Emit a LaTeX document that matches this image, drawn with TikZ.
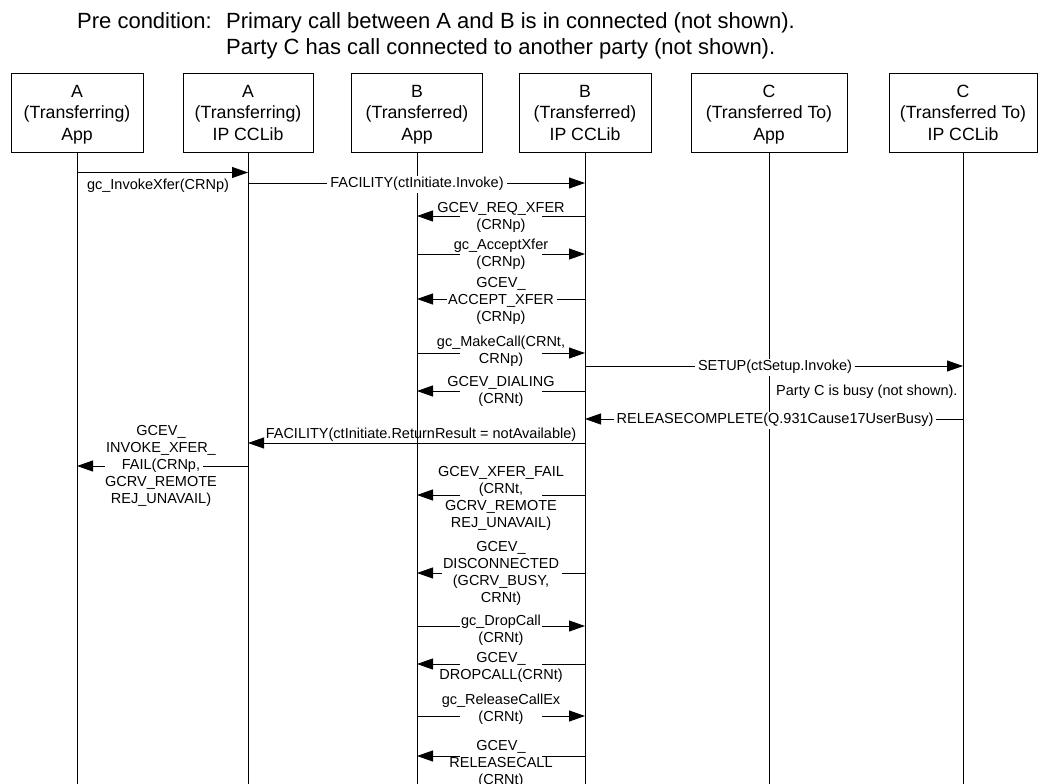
\documentclass[tikz,border=0pt]{standalone}
\usepackage{fontspec}
\setmainfont{Liberation Sans}
\usetikzlibrary{arrows.meta}
\begin{document}
\begin{tikzpicture}[x=1pt,y=-1pt,
  actor/.style={draw, line width=0.9pt, minimum height=79pt, inner sep=0pt},
  actortext/.style={align=center, inner sep=0pt, font=\fontsize{17.7}{21.5}\selectfont,
    execute at begin node=\strut, execute at end node=\strut},
  life/.style={line width=0.9pt},
  msg/.style={line width=0.9pt, -{Triangle[length=16pt,width=11pt]}},
  lbl/.style={align=center, inner sep=0pt, font=\fontsize{14.5}{17}\selectfont,
    execute at begin node=\strut, execute at end node=\strut},
  gap/.style={fill=white, inner sep=0pt, minimum height=4pt, minimum width=82pt},
  inl/.style={lbl, fill=white, inner xsep=3pt, inner ysep=0pt},
  head/.style={inner sep=0pt, font=\fontsize{22}{27}\selectfont},
]
\useasboundingbox (0,0) rectangle (1039,784);

% precondition text
\node[head, anchor=base west] (pre) at (77,28.5) {Pre condition:};
\node[head, anchor=base west] (cond1) at (226,28.5) {Primary call between A and B is in connected (not shown).};
\node[head, anchor=base west] (cond2) at (226,54.5) {Party C has call connected to another party (not shown).};

% participants: frames and their captions
\node[actor, minimum width=132pt] (bA)  at (77,112.5)  {};
\node[actor, minimum width=130pt] (bAc) at (248,112.5) {};
\node[actor, minimum width=131pt] (bB)  at (417,112.5) {};
\node[actor, minimum width=132pt] (bBc) at (585,112.5) {};
\node[actor, minimum width=156pt] (bC)  at (769,112.5) {};
\node[actor, minimum width=148pt] (bCc) at (963,112.5) {};
\node[actortext] (nA)  at ([yshift=-3.5pt]bA.center)  {A\\(Transferring)\\App};
\node[actortext] (nAc) at ([yshift=-3.5pt]bAc.center) {A\\(Transferring)\\IP CCLib};
\node[actortext] (nB)  at ([yshift=-3.5pt]bB.center)  {B\\(Transferred)\\App};
\node[actortext] (nBc) at ([yshift=-3.5pt]bBc.center) {B\\(Transferred)\\IP CCLib};
\node[actortext] (nC)  at ([yshift=-3.5pt]bC.center)  {C\\(Transferred To)\\App};
\node[actortext] (nCc) at ([yshift=-3.5pt]bCc.center) {C\\(Transferred To)\\IP CCLib};

% lifelines
\foreach \p in {bA,bAc,bB,bBc,bC,bCc}
  \draw[life] (\p.south) -- (\p.south |- 0,790);

% gc_InvokeXfer
\draw[msg] (bA.south |- 0,172.5) -- (bAc.south |- 0,172.5);
\node[lbl] (t1) at (158,186.5) {gc\_InvokeXfer(CRNp)};

% FACILITY invoke
\draw[msg] (bAc.south |- 0,183) -- (bBc.south |- 0,183);
\node[inl] (t2) at (417,184.5) {FACILITY(ctInitiate.Invoke)};

% GCEV_REQ_XFER
\draw[msg] (bBc.south |- 0,216) -- (bB.south |- 0,216);
\node[gap] (g3) at (501,216) {};
\node[lbl] (t3) at (501,218) {GCEV\_REQ\_XFER\\(CRNp)};

% gc_AcceptXfer
\draw[msg] (bB.south |- 0,254) -- (bBc.south |- 0,254);
\node[gap] (g4) at (501,254) {};
\node[lbl] (t4) at (501,255.3) {gc\_AcceptXfer\\(CRNp)};

% GCEV_ACCEPT_XFER
\draw[msg] (bBc.south |- 0,299) -- (bB.south |- 0,299);
\node[gap, minimum width=110pt] (g5) at (502,299) {};
\node[lbl] (t5) at (501,301.8) {GCEV\_\\ACCEPT\_XFER\\(CRNp)};

% gc_MakeCall
\draw[msg] (bB.south |- 0,353) -- (bBc.south |- 0,353);
\node[gap] (g6) at (501,353) {};
\node[lbl] (t6) at (501,352.3) {gc\_MakeCall(CRNt,\\CRNp)};

% SETUP
\draw[msg] (bBc.south |- 0,366) -- (bCc.south |- 0,366);
\node[inl] (t7) at (775,367) {SETUP(ctSetup.Invoke)};

% GCEV_DIALING
\draw[msg] (bBc.south |- 0,391) -- (bB.south |- 0,391);
\node[gap] (g8) at (501,391) {};
\node[lbl] (t8) at (501,392.3) {GCEV\_DIALING\\(CRNt)};

% note
\node[lbl, anchor=west] (note) at (776,391.8) {Party C is busy (not shown).};

% RELEASECOMPLETE
\draw[msg] (bCc.south |- 0,419) -- (bBc.south |- 0,419);
\node[inl] (t10) at (775,420.5) {RELEASECOMPLETE(Q.931Cause17UserBusy)};

% FACILITY return result
\draw[msg] (bBc.south |- 0,443) -- (bAc.south |- 0,443);
\node[lbl] (t11) at (421,435.3) {FACILITY(ctInitiate.ReturnResult = notAvailable)};

% GCEV_INVOKE_XFER_FAIL
\draw[msg] (bAc.south |- 0,466) -- (bA.south |- 0,466);
\node[gap, minimum width=98pt] (g12) at (154,466) {};
\node[lbl] (t12) at (161,467.3) {GCEV\_\\INVOKE\_XFER\_\\FAIL(CRNp,\\GCRV\_REMOTE\\REJ\_UNAVAIL)};

% GCEV_XFER_FAIL
\draw[msg] (bBc.south |- 0,495) -- (bB.south |- 0,495);
\node[gap] (g13) at (501,495) {};
\node[lbl] (t13) at (501,499.3) {GCEV\_XFER\_FAIL\\(CRNt,\\GCRV\_REMOTE\\REJ\_UNAVAIL)};

% GCEV_DISCONNECTED
\draw[msg] (bBc.south |- 0,573) -- (bB.south |- 0,573);
\node[gap, minimum width=120pt] (g14) at (502,573) {};
\node[lbl] (t14) at (501,574.8) {GCEV\_\\DISCONNECTED\\(GCRV\_BUSY,\\CRNt)};

% gc_DropCall
\draw[msg] (bB.south |- 0,626) -- (bBc.south |- 0,626);
\node[gap] (g15) at (501,626) {};
\node[lbl] (t15) at (501,631.5) {gc\_DropCall\\(CRNt)};

% GCEV_DROPCALL
\draw[msg] (bBc.south |- 0,664) -- (bB.south |- 0,664);
\node[gap] (g16) at (501,664) {};
\node[lbl] (t16) at (501,668.3) {GCEV\_\\DROPCALL(CRNt)};

% gc_ReleaseCallEx
\draw[msg] (bB.south |- 0,716) -- (bBc.south |- 0,716);
\node[gap] (g17) at (501,716) {};
\node[lbl] (t17) at (501,710.3) {gc\_ReleaseCallEx\\(CRNt)};

% GCEV_RELEASECALL
\draw[msg] (bBc.south |- 0,756) -- (bB.south |- 0,756);
\node[gap] (g18) at (501,756) {};
\node[lbl] (t18) at (501,764.8) {GCEV\_\\RELEASECALL\\(CRNt)};
\end{tikzpicture}
\end{document}
